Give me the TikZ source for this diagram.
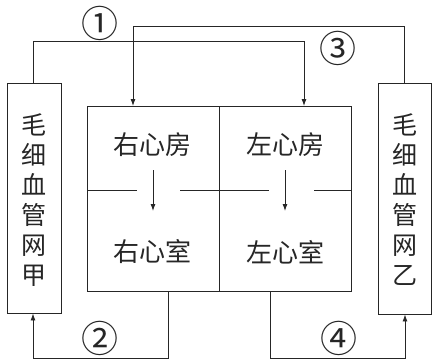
\documentclass[tikz,border=0pt]{standalone}
\usepackage{fontspec}
\newfontfamily\cjk{Noto Sans CJK SC}
\usetikzlibrary{arrows.meta}
\begin{document}
\begin{tikzpicture}[x=1pt,y=-1pt,
  line/.style={line width=0.9pt,black!85},
  arr/.style={line,-{Latex[length=7pt,width=5pt]}},
  lbl/.style={font=\cjk\fontsize{26}{30}\selectfont,inner sep=0pt,text=black!85},
  vlbl/.style={font=\cjk\fontsize{25}{30}\selectfont,inner sep=0pt,align=center,text=black!85},
  num/.style={font=\cjk\fontsize{37}{37}\selectfont,inner sep=0pt,text=black!85},
  boxx/.style={draw,line,inner sep=0pt}]
\useasboundingbox (0,0) rectangle (437,364);
% capillary boxes
\node[boxx,minimum width=54pt,minimum height=230pt] (jia) at (34,198) {};
\node[vlbl] (jiat) at (34,200) {毛\\细\\血\\管\\网\\甲};
\node[boxx,minimum width=53pt,minimum height=231pt] (yi) at (404.5,198.5) {};
\node[vlbl] (yit) at (404.5,200) {毛\\细\\血\\管\\网\\乙};
% heart
\node[boxx,minimum width=264pt,minimum height=185pt] (heart) at (219,198.5) {};
\coordinate (ht) at (219,106);
\coordinate (hb) at (219,291);
\draw[line] (ht) -- (hb);
\coordinate (dl1) at (87,190); \coordinate (dl2) at (137,190);
\coordinate (dl3) at (180,190); \coordinate (dl4) at (269,190);
\coordinate (dl5) at (314,190); \coordinate (dl6) at (351,190);
\draw[line] (dl1) -- (dl2) (dl3) -- (dl4) (dl5) -- (dl6);
\node[lbl] (ra) at (152.5,145) {右心房};
\node[lbl] (la) at (285,145) {左心房};
\node[lbl] (rv) at (152.5,252) {右心室};
\node[lbl] (lv) at (285,252) {左心室};
\coordinate (a1s) at (153,170); \coordinate (a1e) at (153,211);
\coordinate (a2s) at (285,170); \coordinate (a2e) at (285,211);
\draw[arr] (a1s) -- (a1e);
\draw[arr] (a2s) -- (a2e);
% circulation lines
\coordinate (j1) at (33,41); \coordinate (j2) at (304,41);
\coordinate (laT) at (304,106);
\draw[arr] (jia.north -| j1) -- (j1) -- (j2) -- (laT);
\coordinate (y1) at (404,26); \coordinate (y2) at (133,26);
\coordinate (raT) at (133,106);
\draw[arr] (yi.north -| y1) -- (y1) -- (y2) -- (raT);
\coordinate (rvB) at (168,291); \coordinate (b1) at (168,358); \coordinate (b2) at (33,358);
\draw[arr] (rvB) -- (b1) -- (b2) -- (jia.south -| b2);
\coordinate (lvB) at (270,291); \coordinate (c1) at (270,358); \coordinate (c2) at (405,358);
\draw[arr] (lvB) -- (c1) -- (c2) -- (yi.south -| c2);
% numbers
\node[num] (n1) at (100,23) {①};
\node[num] (n3) at (338,48) {③};
\node[num] (n2) at (100,338) {②};
\node[num] (n4) at (339,338) {④};
\end{tikzpicture}
\end{document}
